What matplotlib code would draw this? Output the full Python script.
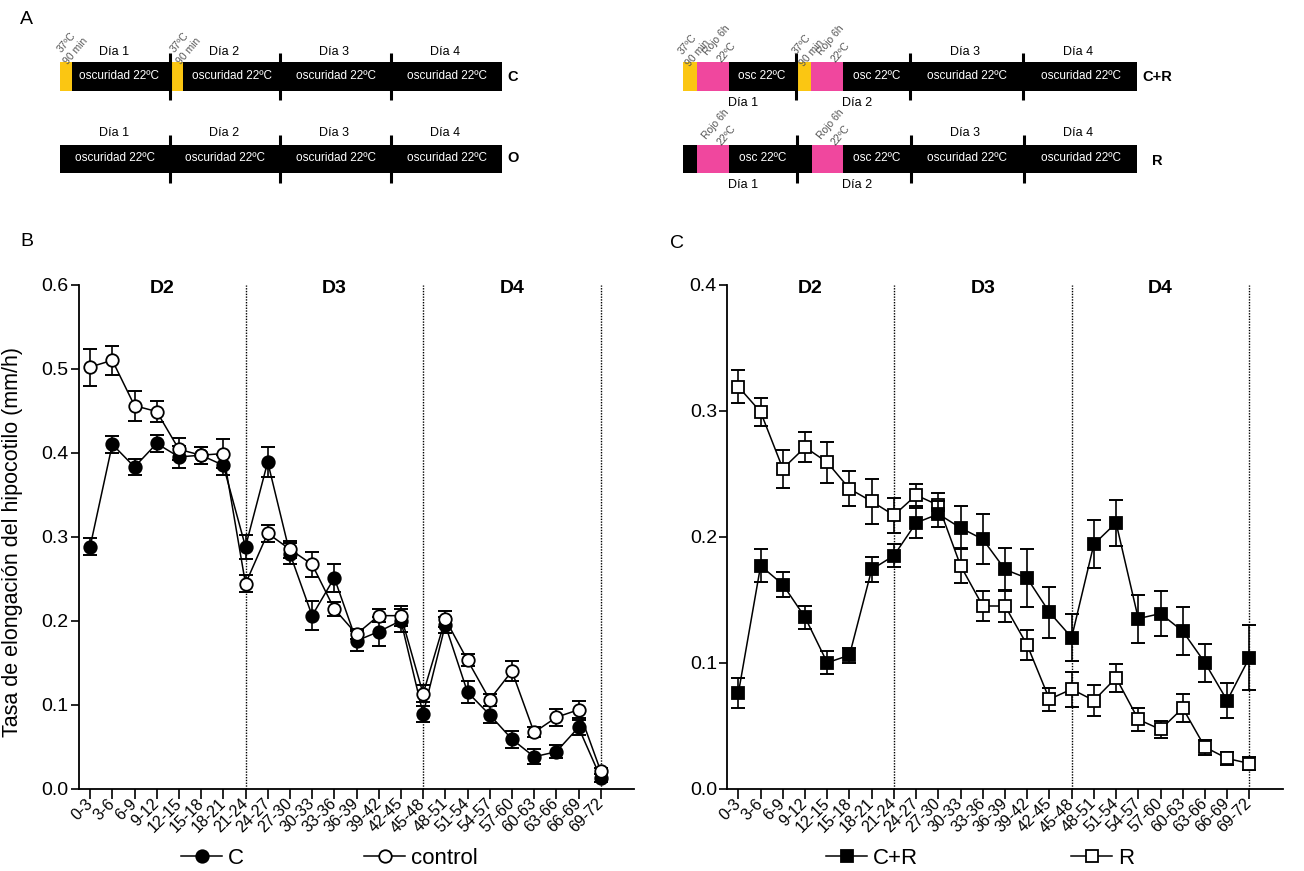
import numpy as np
import matplotlib.pyplot as plt
from matplotlib.patches import Rectangle

plt.rcParams['font.family'] = ['Liberation Sans', 'DejaVu Sans']

# ---- data (mm/h) ----
intervals = ['0-3', '3-6', '6-9', '9-12', '12-15', '15-18', '18-21', '21-24',
             '24-27', '27-30', '30-33', '33-36', '36-39', '39-42', '42-45', '45-48',
             '48-51', '51-54', '54-57', '57-60', '60-63', '63-66', '66-69', '69-72']

c_mean = [0.288, 0.410, 0.383, 0.411, 0.395, 0.397, 0.385, 0.288,
          0.389, 0.280, 0.206, 0.251, 0.176, 0.187, 0.200, 0.089,
          0.195, 0.115, 0.088, 0.059, 0.038, 0.044, 0.073, 0.013]
c_err = [0.010, 0.010, 0.010, 0.010, 0.013, 0.010, 0.012, 0.014,
         0.018, 0.012, 0.017, 0.017, 0.012, 0.017, 0.014, 0.010,
         0.010, 0.013, 0.010, 0.010, 0.009, 0.008, 0.009, 0.005]

control_mean = [0.502, 0.510, 0.456, 0.449, 0.404, 0.397, 0.399, 0.244,
                0.304, 0.285, 0.267, 0.214, 0.184, 0.206, 0.206, 0.113,
                0.202, 0.153, 0.106, 0.140, 0.067, 0.085, 0.094, 0.021]
control_err = [0.022, 0.017, 0.018, 0.012, 0.013, 0.010, 0.017, 0.010,
               0.010, 0.010, 0.015, 0.008, 0.006, 0.008, 0.012, 0.010,
               0.010, 0.007, 0.007, 0.012, 0.006, 0.010, 0.010, 0.004]

cr_mean = [0.076, 0.177, 0.162, 0.136, 0.100, 0.106, 0.174, 0.185,
           0.211, 0.218, 0.207, 0.198, 0.174, 0.167, 0.140, 0.120,
           0.194, 0.211, 0.135, 0.139, 0.125, 0.100, 0.070, 0.104]
cr_err = [0.012, 0.013, 0.010, 0.009, 0.009, 0.006, 0.010, 0.009,
          0.012, 0.010, 0.017, 0.020, 0.017, 0.023, 0.020, 0.019,
          0.019, 0.018, 0.019, 0.018, 0.019, 0.015, 0.014, 0.026]

r_mean = [0.319, 0.299, 0.254, 0.271, 0.259, 0.238, 0.228, 0.217,
          0.233, 0.225, 0.177, 0.145, 0.145, 0.114, 0.071, 0.079,
          0.070, 0.088, 0.055, 0.047, 0.064, 0.033, 0.024, 0.020]
r_err = [0.013, 0.011, 0.015, 0.012, 0.016, 0.014, 0.018, 0.014,
         0.009, 0.010, 0.014, 0.012, 0.013, 0.012, 0.009, 0.014,
         0.012, 0.011, 0.009, 0.007, 0.011, 0.006, 0.005, 0.005]

day_labels = ['D2', 'D3', 'D4']
day_ends = ['21-24', '45-48', '69-72']

W, H = 1304, 871
fig = plt.figure(figsize=(W / 100, H / 100), dpi=100)

# ---------------- panel A (schematic, pixel coords) ----------------
ax0 = fig.add_axes([0, 0, 1, 1])
ax0.set_xlim(0, W)
ax0.set_ylim(H, 0)
ax0.axis('off')

yellow = '#FBC612'
pink = '#F0479E'
grey = '#555555'


def box(x0, x1, y0, y1, col):
    ax0.add_patch(Rectangle((x0, y0), x1 - x0, y1 - y0, color=col, lw=0))


def sep(x, y0, y1):
    ax0.plot([x, x], [y0, y1], color='k', lw=2.2, solid_capstyle='butt')


def txt(x, y, s, **kw):
    kw.setdefault('fontsize', 9)
    ax0.text(x, y, s, ha='center', va='center', **kw)


def rot(x, y, s):
    ax0.text(x, y, s, ha='center', va='center', rotation=50, rotation_mode='anchor',
             fontsize=7.5, color=grey)


# left top: C
box(60, 502, 62, 91, 'k')
box(60, 72, 62, 91, yellow)
box(172, 183, 62, 91, yellow)
for x in (170, 280, 391):
    sep(x, 53, 100)
for x, s in zip((114, 224, 334, 445), ('Día 1', 'Día 2', 'Día 3', 'Día 4')):
    txt(x, 52, s)
for x in (119, 232, 336, 447):
    txt(x, 76, 'oscuridad 22ºC', color='white', fontsize=8.5)
txt(513, 77, 'C', fontsize=10.5, fontweight='bold')
rot(67, 42, '37ºC')
rot(76, 51, '90 min')
rot(180, 42, '37ºC')
rot(189, 51, '90 min')

# left bottom: O
box(60, 502, 145, 173, 'k')
for x in (170, 280, 391):
    sep(x, 135, 183)
for x, s in zip((114, 224, 334, 445), ('Día 1', 'Día 2', 'Día 3', 'Día 4')):
    txt(x, 133, s)
for x in (115, 225, 336, 447):
    txt(x, 158, 'oscuridad 22ºC', color='white', fontsize=8.5)
txt(513, 158, 'O', fontsize=10.5, fontweight='bold')

# right top: C+R
box(683, 1137, 62, 91, 'k')
box(683, 697, 62, 91, yellow)
box(697, 729, 62, 91, pink)
box(798, 811, 62, 91, yellow)
box(811, 843, 62, 91, pink)
for x in (796, 910, 1023):
    sep(x, 53, 100)
txt(762, 76, 'osc 22ºC', color='white', fontsize=8.5)
txt(877, 76, 'osc 22ºC', color='white', fontsize=8.5)
txt(967, 76, 'oscuridad 22ºC', color='white', fontsize=8.5)
txt(1081, 76, 'oscuridad 22ºC', color='white', fontsize=8.5)
txt(965, 52, 'Día 3')
txt(1078, 52, 'Día 4')
txt(743, 103, 'Día 1')
txt(857, 103, 'Día 2')
txt(1157, 77, 'C+R', fontsize=10.5, fontweight='bold')
rot(688, 44, '37ºC')
rot(698, 53, '90 min')
rot(717, 40, 'Rojo 6h')
rot(727, 52, '22ºC')
rot(802, 44, '37ºC')
rot(812, 53, '90 min')
rot(831, 40, 'Rojo 6h')
rot(841, 52, '22ºC')

# right bottom: R
box(683, 1137, 145, 173, 'k')
box(697, 729, 145, 173, pink)
box(812, 843, 145, 173, pink)
for x in (797, 911, 1024):
    sep(x, 135, 183)
txt(763, 158, 'osc 22ºC', color='white', fontsize=8.5)
txt(877, 158, 'osc 22ºC', color='white', fontsize=8.5)
txt(967, 158, 'oscuridad 22ºC', color='white', fontsize=8.5)
txt(1081, 158, 'oscuridad 22ºC', color='white', fontsize=8.5)
txt(965, 133, 'Día 3')
txt(1078, 133, 'Día 4')
txt(743, 185, 'Día 1')
txt(857, 185, 'Día 2')
rot(716, 124, 'Rojo 6h')
rot(727, 135, '22ºC')
rot(831, 124, 'Rojo 6h')
rot(841, 135, '22ºC')
txt(1157, 161, 'R', fontsize=10.5, fontweight='bold')

# panel letters
ax0.text(20, 20, 'A', fontsize=14, ha='left', va='center')
ax0.text(20, 241, 'B', fontsize=14, ha='left', va='center')
ax0.text(670, 243, 'C', fontsize=14, ha='left', va='center')

# ---------------- panels B and C ----------------
x = np.arange(len(intervals))


def setup(ax, ymax):
    ax.set_xlim(-0.5, 24.5)
    ax.set_ylim(0, ymax)
    ax.spines['top'].set_visible(False)
    ax.spines['right'].set_visible(False)
    for s in ('left', 'bottom'):
        ax.spines[s].set_linewidth(1.3)
    ax.set_yticks(np.arange(0, ymax + 1e-9, 0.1))
    ax.set_yticklabels(['%.1f' % v for v in np.arange(0, ymax + 1e-9, 0.1)])
    ax.tick_params(axis='y', length=5.5, width=1.2, labelsize=14, pad=2)
    ax.tick_params(axis='x', length=7, width=1.2, labelsize=11.5, pad=2)
    ax.set_xticks(x)
    ax.set_xticklabels(intervals, rotation=45, ha='right', va='center',
                       rotation_mode='anchor')
    for e in day_ends:
        ax.axvline(intervals.index(e), ymin=0, ymax=1, color='k', ls=(0, (1, 1)), lw=1,
                   zorder=1)
    bounds = [-0.5] + [intervals.index(e) for e in day_ends]
    for i, d in enumerate(day_labels):
        ax.text((bounds[i] + bounds[i + 1]) / 2, 0.993, d, transform=ax.get_xaxis_transform(),
                ha='center', va='center', fontsize=14, fontweight='bold')


def series(ax, mean, err, marker, face, z):
    ax.errorbar(x, mean, yerr=err, fmt='none', ecolor='k', elinewidth=1.2, capsize=5,
                capthick=1.4, zorder=z)
    line, = ax.plot(x, mean, color='k', lw=1.1, marker=marker, ms=9 if marker == 'o' else 8.5,
                    mfc=face, mec='k', mew=1.3, zorder=z + 0.5)
    return line


axB = fig.add_axes([79 / W, (H - 788.7) / H, 555 / W, 504 / H])
setup(axB, 0.6)
hC = series(axB, c_mean, c_err, 'o', 'k', 2)
hCtl = series(axB, control_mean, control_err, 'o', 'white', 3)
axB.set_ylabel('Tasa de elongación del hipocotilo (mm/h)', fontsize=15.5)
axB.yaxis.set_label_coords(-0.1, 0.49)

axC = fig.add_axes([727.3 / W, (H - 788.7) / H, 555.4 / W, 504 / H])
setup(axC, 0.4)
hR = series(axC, r_mean, r_err, 's', 'white', 2)
hCR = series(axC, cr_mean, cr_err, 's', 'k', 3)

for h, lab, px in ((hC, 'C', 181), (hCtl, 'control', 364), (hCR, 'C+R', 826), (hR, 'R', 1071)):
    fig.legend([h], [lab], loc='center left', bbox_to_anchor=(px / W, 1 - 858 / H),
               frameon=False, borderpad=0, borderaxespad=0, handlelength=1.85,
               handletextpad=0.25, fontsize=16)

fig.savefig('out.png', dpi=100)
